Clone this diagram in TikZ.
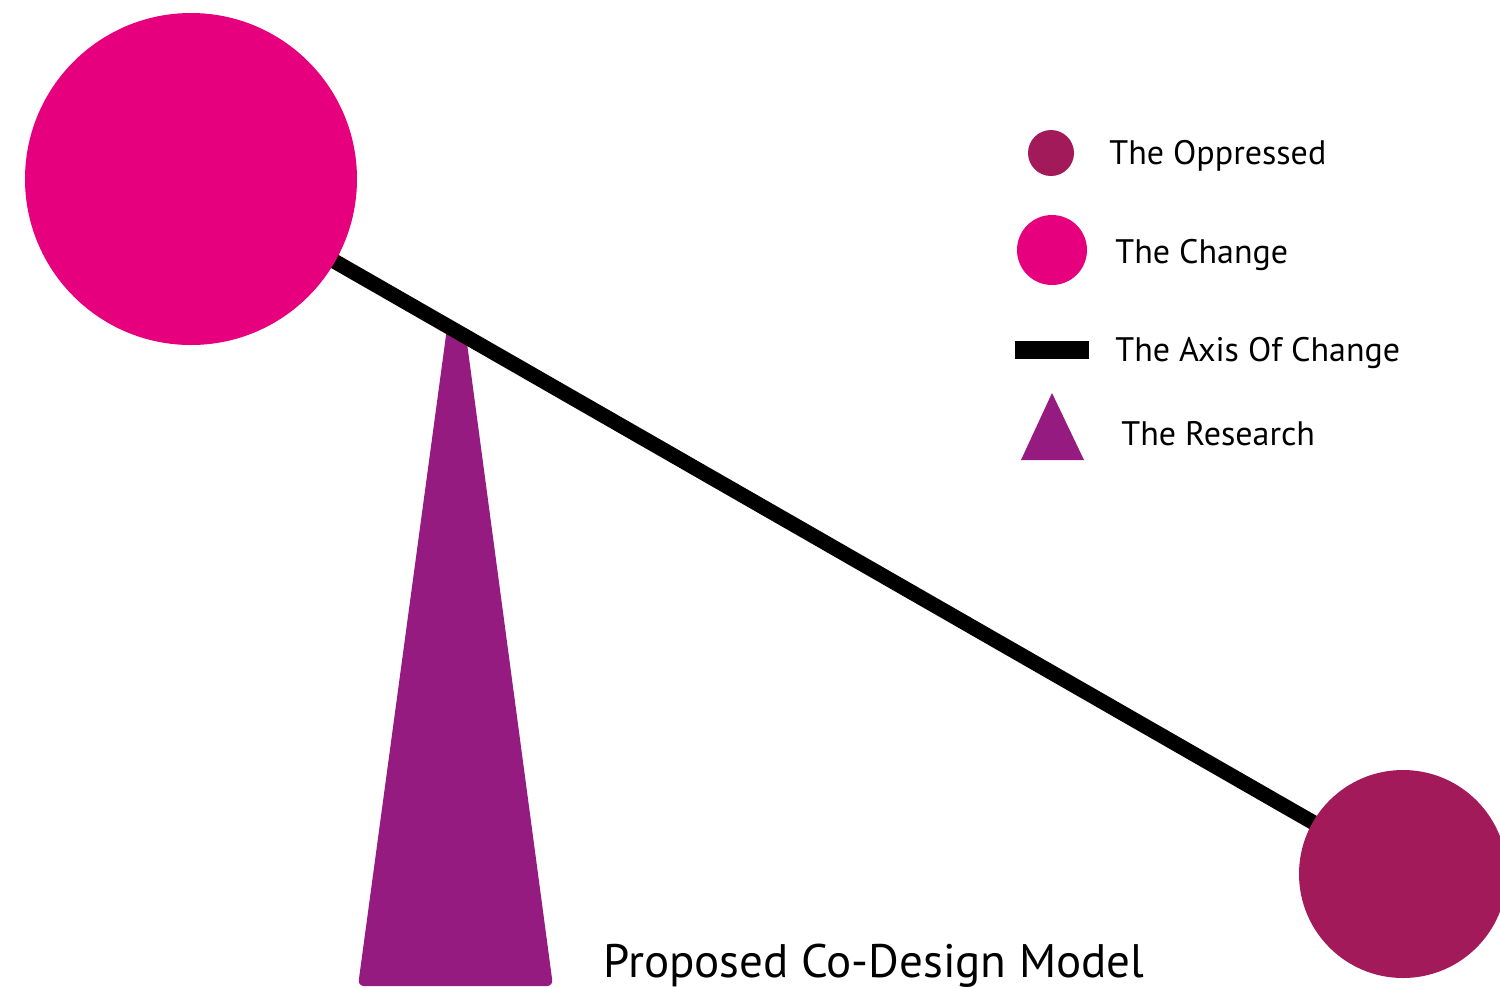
\documentclass[tikz,border=0pt]{standalone}
\usepackage{fontspec}
\setmainfont{PT Sans}
\usetikzlibrary{backgrounds}
\definecolor{changec}{HTML}{E6007E}
\definecolor{opprc}{HTML}{A21A5A}
\definecolor{researchc}{HTML}{951B81}
\begin{document}
\begin{tikzpicture}[x=0.5pt,y=-0.5pt,
  dot/.style={circle,inner sep=0pt,outer sep=0pt},
  legtext/.style={anchor=base west,inner sep=0pt,font=\fontsize{17pt}{20pt}\selectfont},
  axis/.style={line width=7.5pt,black}]
\useasboundingbox (0,0) rectangle (1500,987);
\clip (0,0) rectangle (1500,987);
% main figure
\node[dot,fill=changec,minimum size=166pt] (change) at (191,179) {};
\node[dot,fill=opprc,minimum size=104pt] (oppressed) at (1403,874) {};
\begin{scope}[on background layer]
  \fill[researchc,rounded corners=3pt] (447,328) -- (465,328) -- (553,986) -- (358,986) -- cycle;
  \draw[axis] (change.center) -- (oppressed.center);
\end{scope}
% legend
\node[dot,fill=opprc,minimum size=23pt] (l1) at (1051,153) {};
\node[dot,fill=changec,minimum size=35pt] (l2) at (1052,250) {};
\node[fill=black,minimum width=37pt,minimum height=9pt,inner sep=0pt] (l3) at (1052,350) {};
\fill[researchc] (1052,393) -- (1084,460) -- (1021,460) -- cycle;
\node[legtext] (t1) at (1109,164) {The Oppressed};
\node[legtext] (t2) at (1115,263) {The Change};
\node[legtext] (t3) at (1115,361) {The Axis Of Change};
\node[legtext] (t4) at (1121,445) {The Research};
\node[anchor=base west,inner sep=0pt,font=\fontsize{23.5pt}{28pt}\selectfont] (title) at (603,977) {Proposed Co-Design Model};
\end{tikzpicture}
\end{document}
